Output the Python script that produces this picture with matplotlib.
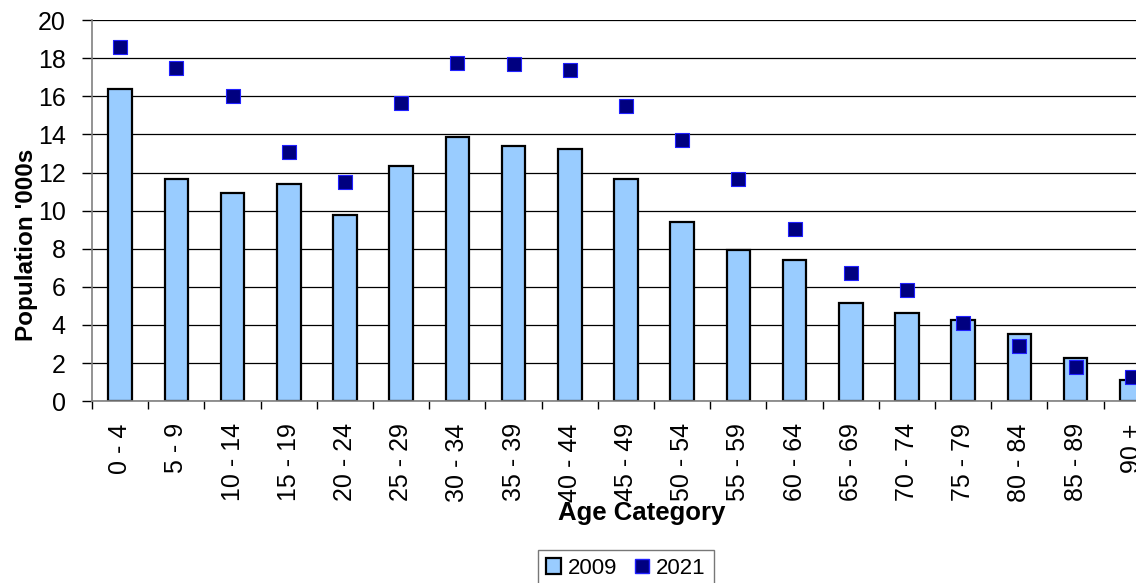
import numpy as np
import matplotlib.pyplot as plt
from matplotlib.lines import Line2D
from matplotlib.patches import Patch

plt.rcParams['font.family'] = ['Liberation Sans', 'DejaVu Sans']

# Age bands and population (thousands)
ages = ['0 - 4', '5 - 9', '10 - 14', '15 - 19', '20 - 24', '25 - 29', '30 - 34',
        '35 - 39', '40 - 44', '45 - 49', '50 - 54', '55 - 59', '60 - 64',
        '65 - 69', '70 - 74', '75 - 79', '80 - 84', '85 - 89', '90 +']
pop_2009 = [16.4, 11.65, 10.95, 11.4, 9.75, 12.35, 13.85, 13.4, 13.25, 11.65,
            9.4, 7.95, 7.4, 5.15, 4.6, 4.25, 3.5, 2.25, 1.1]
pop_2021 = [18.6, 17.5, 16.0, 13.1, 11.5, 15.65, 17.75, 17.7, 17.4, 15.5,
            13.7, 11.65, 9.05, 6.7, 5.85, 4.1, 2.9, 1.8, 1.25]

fig = plt.figure(figsize=(11.36, 5.83), dpi=100)
# axes runs past the right edge, like the original screenshot
ax = fig.add_axes([0.081, 0.312, 0.940, 0.6535])

x = np.arange(len(ages))
ax.bar(x, pop_2009, width=0.42, color='#99CCFF', edgecolor='black', linewidth=1.6, zorder=2)
ax.scatter(x, pop_2021, marker='s', s=90, color='#000080', edgecolor='#2020FF',
           linewidth=0.8, zorder=3)

ax.set_xlim(-0.5, len(ages) - 0.5)
ax.set_ylim(0, 20)
ax.set_yticks(np.arange(0, 21, 2))
ax.yaxis.grid(True, color='black', linewidth=0.9, zorder=0)
ax.set_axisbelow(True)

ax.set_xticks(x)
ax.set_xticklabels(ages, rotation=90, fontsize=18)
ax.set_xticks(np.arange(-0.5, len(ages)), minor=True)
ax.tick_params(axis='x', which='major', length=0, pad=16)
ax.tick_params(axis='x', which='minor', length=6, width=1, direction='out')
ax.tick_params(axis='y', labelsize=18, length=7, width=1, direction='out', pad=12)

for s in ['top', 'right']:
    ax.spines[s].set_visible(False)
ax.spines['left'].set_color('#808080')
ax.spines['bottom'].set_color('#808080')
ax.spines['left'].set_linewidth(1.2)
ax.spines['bottom'].set_linewidth(1.2)

# axis titles sit over the tick labels in the original
fig.text(0.023, 0.58, "Population '000s", fontsize=17.5, fontweight='bold',
         rotation=90, ha='center', va='center')
fig.text(0.565, 0.12, 'Age Category', fontsize=18.5, fontweight='bold',
         ha='center', va='center')

handles = [Patch(facecolor='#99CCFF', edgecolor='black', linewidth=1.6),
           Line2D([], [], marker='s', linestyle='none', markersize=10,
                  markerfacecolor='#000080', markeredgecolor='#2020FF')]
fig.legend(handles, ['2009', '2021'], loc='upper left', bbox_to_anchor=(0.4736, 0.0566),
           ncol=2, fontsize=16, frameon=True, fancybox=False, edgecolor='#555555',
           handlelength=0.7, handleheight=0.7, handletextpad=0.3, columnspacing=0.75,
           borderpad=0.35, borderaxespad=0)

plt.savefig('out.png', dpi=100)
